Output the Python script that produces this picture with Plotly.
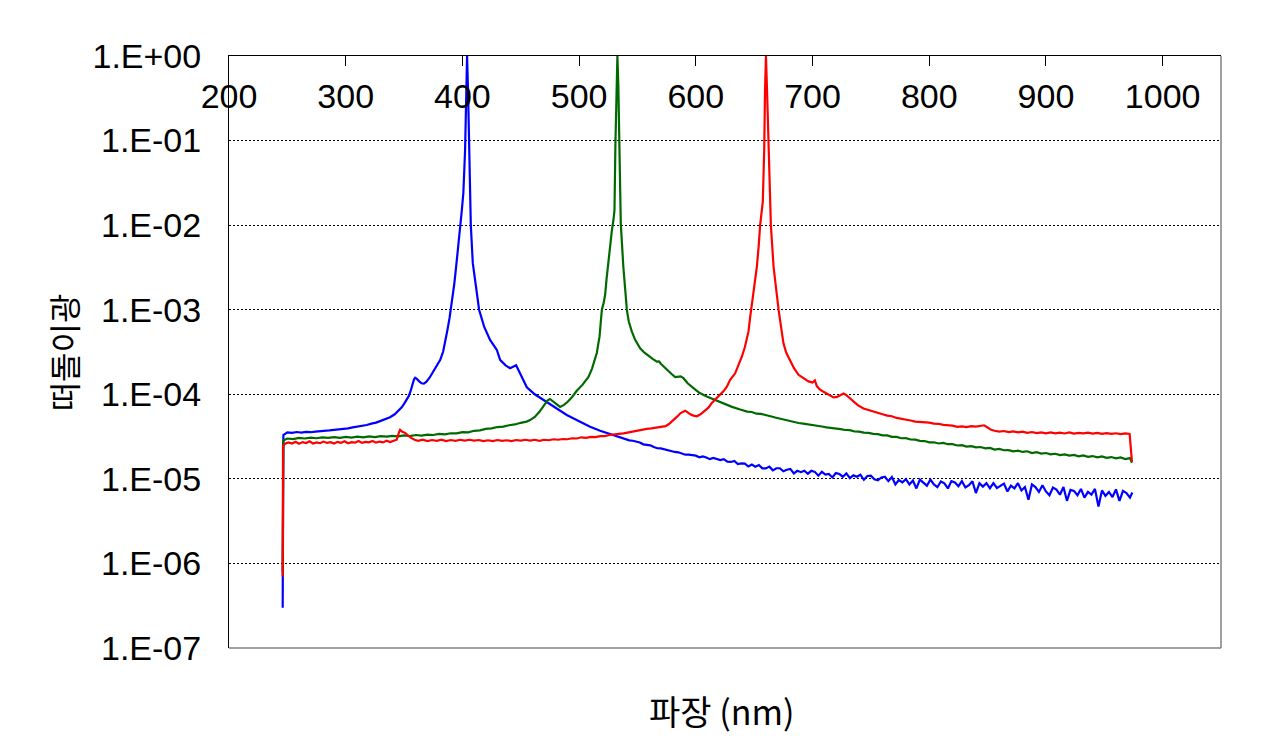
import plotly.graph_objects as go

# ---------------- data ----------------
blue_x = [246.0, 246.6, 250, 254, 258, 262, 266, 270, 274, 278, 282, 286, 290, 294, 298, 302, 306, 310, 314, 318,
          322, 326, 330, 334, 338, 342, 345, 348, 350, 352, 354, 355.5, 357, 358.5, 359.5, 361, 363, 365, 367, 369,
          372, 375, 378, 381, 383.5, 385.5, 387, 389, 391, 393, 394.6, 396.5, 398, 399.5, 400.8, 402.3, 403.3, 404.0,
          404.8, 405.9, 406.6, 407.2, 408.9, 411.5, 414.3, 418.6, 423.7, 429.5, 432.3, 437, 440.9, 446, 449.4, 455.2,
          462, 469.4, 475.1, 480.9, 489.4, 500, 509.4, 518, 526, 533,
          540, 543, 546, 549, 552, 555, 558, 561, 564, 567, 570, 573, 576, 579, 582, 585, 588, 591, 594, 597,
          600, 603, 606, 609, 612, 615, 618, 621, 624, 627, 630, 633, 636, 639, 642, 645, 648, 651, 654, 657,
          660, 663, 666, 669, 672, 675, 678, 681, 684, 687, 690, 693, 696, 699, 702, 705, 708, 711, 714, 717,
          720, 723, 726, 729, 732, 735, 738, 741, 744, 747, 750, 753, 756, 759, 762, 765, 768, 771, 774, 777,
          780, 783, 786, 789, 792, 795, 798, 801, 804, 807, 810, 813, 816, 819, 822, 825, 828, 831, 834, 837,
          840, 843, 846, 849, 852, 855, 858, 861, 864, 867, 870, 873, 876, 879, 882, 885, 888, 891, 894, 897,
          900, 903, 906, 909, 912, 915, 918, 921, 924, 927, 930, 933, 936, 939, 942, 945, 948, 951, 954, 957,
          960, 963, 966, 969, 972, 974]
blue_y = [3.0e-7, 3.3e-5, 3.55e-5, 3.5e-5, 3.58e-5, 3.53e-5, 3.6e-5, 3.56e-5, 3.62e-5, 3.64e-5, 3.7e-5, 3.74e-5,
          3.8e-5, 3.83e-5, 3.92e-5, 3.96e-5, 4.06e-5, 4.12e-5, 4.25e-5, 4.33e-5,
          4.5e-5, 4.62e-5, 4.85e-5, 5.05e-5, 5.35e-5, 5.8e-5, 6.3e-5, 7.0e-5, 7.7e-5, 8.5e-5, 9.5e-5, 1.08e-4,
          1.3e-4, 1.5e-4, 1.57e-4, 1.52e-4, 1.42e-4, 1.35e-4, 1.34e-4, 1.4e-4,
          1.58e-4, 1.85e-4, 2.15e-4, 2.55e-4, 3.2e-4, 4.3e-4, 5.6e-4, 8.0e-4, 1.19e-3, 2.0e-3, 3.2e-3, 5.5e-3,
          8.7e-3, 1.5e-2, 2.4e-2, 7.8e-2, 3.5e-1, 1.0,
          4.0e-1, 7.8e-2, 2.4e-2, 1.0e-2, 3.55e-3, 1.88e-3, 1.0e-3, 6.3e-4, 4.4e-4, 3.34e-4, 2.55e-4, 2.2e-4,
          2.03e-4, 2.2e-4, 1.77e-4, 1.21e-4,
          1.0e-4, 8.6e-5, 7.5e-5, 6.8e-5, 5.7e-5, 4.8e-5, 4.14e-5, 3.7e-5, 3.4e-5, 3.15e-5,
          2.95e-5, 2.85e-5, 2.82e-5, 2.76e-5, 2.69e-5, 2.56e-5, 2.50e-5, 2.49e-5, 2.38e-5, 2.30e-5,
          2.29e-5, 2.24e-5, 2.18e-5, 2.10e-5, 2.08e-5, 2.06e-5, 2.01e-5, 1.93e-5, 1.93e-5, 1.92e-5,
          1.88e-5, 1.80e-5, 1.845e-5, 1.785e-5, 1.71e-5, 1.77e-5, 1.73e-5, 1.67e-5, 1.71e-5, 1.60e-5,
          1.585e-5, 1.63e-5, 1.495e-5, 1.525e-5, 1.515e-5, 1.40e-5, 1.48e-5, 1.395e-5, 1.46e-5, 1.33e-5,
          1.33e-5, 1.395e-5, 1.26e-5, 1.335e-5, 1.335e-5, 1.23e-5, 1.28e-5, 1.31e-5, 1.16e-5, 1.245e-5,
          1.20e-5, 1.25e-5, 1.15e-5, 1.245e-5, 1.21e-5, 1.09e-5, 1.21e-5, 1.12e-5, 1.14e-5, 1.04e-5,
          1.17e-5, 1.14e-5, 1.06e-5, 1.16e-5, 1.02e-5, 1.10e-5, 1.06e-5, 1.12e-5, 9.75e-6, 1.08e-5,
          1.09e-5, 9.9e-6, 9.6e-6, 1.04e-5, 1.06e-5, 9.4e-6, 1.05e-5, 8.6e-6, 9.7e-6, 9.1e-6,
          9.9e-6, 8.6e-6, 9.55e-6, 7.7e-6, 9.8e-6, 9.1e-6, 8.3e-6, 9.8e-6, 8.6e-6, 8.0e-6,
          9.3e-6, 8.85e-6, 7.7e-6, 9.4e-6, 9.05e-6, 8.2e-6, 9.4e-6, 7.9e-6, 8.4e-6, 9.35e-6,
          6.8e-6, 8.9e-6, 8.1e-6, 8.9e-6, 7.75e-6, 8.9e-6, 7.8e-6, 8.25e-6, 8.8e-6, 7.1e-6,
          8.3e-6, 7.7e-6, 8.9e-6, 7.3e-6, 8.0e-6, 5.65e-6, 8.6e-6, 8.0e-6, 7.0e-6, 8.4e-6,
          7.1e-6, 6.4e-6, 7.9e-6, 7.45e-6, 6.5e-6, 8.0e-6, 5.5e-6, 7.4e-6, 7.2e-6, 6.4e-6,
          7.6e-6, 6.0e-6, 7.0e-6, 6.5e-6, 7.6e-6, 4.7e-6, 7.3e-6, 6.3e-6, 7.0e-6, 6.1e-6,
          7.5e-6, 5.5e-6, 7.2e-6, 6.8e-6, 6.0e-6, 6.9e-6]

green_x = [246.0, 246.6, 250, 255, 260, 265, 270, 275, 280, 285, 290, 295, 300, 305, 310, 315, 320, 325, 330, 335,
           340, 345, 350, 355, 360, 365, 370, 375, 380, 385, 390, 395, 400, 405, 410, 415, 420, 425, 430, 435,
           440, 445, 450, 455, 458, 462, 466, 469, 471, 473, 475, 477, 480, 483.7, 487, 490, 494, 498, 503, 508,
           511, 513, 515.2, 516.5, 517.5, 518.5, 519.5, 521, 522.3, 523.5, 525.1, 526.6, 528, 529.4, 530.3, 531.1,
           532.0, 532.8, 533.6, 534.5, 535.7, 537.9, 539.5, 540.9, 542.5, 545.2, 548, 552.3, 556, 559.4, 563,
           566.6, 568.5, 570, 575.2, 579, 582.3, 585, 587, 589.4, 593, 598, 603, 609.4, 616, 623.7, 631, 638,
           644, 648, 652, 656, 660, 664, 668, 672, 676, 680, 684, 688, 692, 696, 700, 704, 708, 712, 716,
           720, 724, 728, 732, 736, 740, 744, 748, 752, 756, 760, 764, 768, 772, 776, 780, 784, 788, 792, 796,
           800, 804, 808, 812, 816, 820, 824, 828, 832, 836, 840, 844, 848, 852, 856, 860, 864, 868, 872, 876,
           880, 884, 888, 892, 896, 900, 904, 908, 912, 916, 920, 924, 928, 932, 936, 940, 944, 948, 952, 956,
           960, 964, 968, 972, 973.7]
green_y = [8.0e-7, 2.85e-5, 3.0e-5, 2.95e-5, 3.05e-5, 3.0e-5, 3.08e-5, 3.02e-5, 3.1e-5, 3.05e-5, 3.12e-5, 3.06e-5,
           3.14e-5, 3.08e-5, 3.15e-5, 3.1e-5, 3.18e-5, 3.12e-5, 3.2e-5, 3.15e-5,
           3.22e-5, 3.18e-5, 3.26e-5, 3.2e-5, 3.3e-5, 3.25e-5, 3.34e-5, 3.3e-5, 3.4e-5, 3.36e-5, 3.46e-5, 3.45e-5,
           3.56e-5, 3.55e-5, 3.7e-5, 3.75e-5, 3.9e-5, 3.95e-5, 4.1e-5, 4.15e-5,
           4.3e-5, 4.4e-5, 4.6e-5, 4.75e-5, 4.95e-5, 5.4e-5, 6.2e-5, 7.2e-5, 7.9e-5, 8.5e-5, 8.8e-5, 8.4e-5, 7.7e-5,
           7.1e-5, 7.5e-5, 8.1e-5, 9.3e-5, 1.1e-4, 1.3e-4, 1.6e-4,
           2.0e-4, 2.5e-4, 3.1e-4, 4.0e-4, 4.8e-4, 7.0e-4, 1.0e-3, 1.2e-3, 1.5e-3, 2.3e-3, 3.9e-3, 6.5e-3, 8.5e-3,
           1.15e-2, 1.5e-2, 9.0e-2,
           4.5e-1, 1.0, 4.5e-1, 9.0e-2, 1.05e-2, 3.2e-3, 1.7e-3, 1.0e-3, 7.3e-4, 5.5e-4, 4.4e-4, 3.5e-4, 3.1e-4,
           2.84e-4, 2.62e-4,
           2.43e-4, 2.45e-4, 2.3e-4, 1.94e-4, 1.75e-4, 1.6e-4, 1.62e-4, 1.63e-4, 1.55e-4, 1.35e-4, 1.18e-4,
           1.04e-4, 9.4e-5, 8.6e-5, 7.8e-5, 7.1e-5, 6.6e-5,
           6.25e-5, 6.18e-5, 5.9e-5, 5.86e-5, 5.62e-5, 5.5e-5, 5.31e-5, 5.14e-5, 5.04e-5, 4.85e-5, 4.72e-5,
           4.58e-5, 4.5e-5, 4.39e-5, 4.32e-5, 4.24e-5, 4.16e-5, 4.07e-5, 4.03e-5,
           3.94e-5, 3.88e-5, 3.78e-5, 3.76e-5, 3.63e-5, 3.62e-5, 3.52e-5, 3.5e-5, 3.41e-5, 3.38e-5, 3.27e-5,
           3.26e-5, 3.14e-5, 3.14e-5, 3.02e-5, 3.03e-5, 2.92e-5, 2.91e-5, 2.81e-5, 2.8e-5,
           2.7e-5, 2.71e-5, 2.62e-5, 2.66e-5, 2.57e-5, 2.57e-5, 2.48e-5, 2.5e-5, 2.41e-5, 2.44e-5, 2.36e-5,
           2.38e-5, 2.3e-5, 2.32e-5, 2.22e-5, 2.26e-5, 2.18e-5, 2.19e-5, 2.12e-5, 2.15e-5,
           2.08e-5, 2.12e-5, 2.02e-5, 2.07e-5, 1.99e-5, 2.02e-5, 1.95e-5, 1.98e-5, 1.91e-5, 1.95e-5, 1.88e-5,
           1.92e-5, 1.85e-5, 1.89e-5, 1.82e-5, 1.86e-5, 1.8e-5, 1.84e-5, 1.77e-5, 1.81e-5,
           1.75e-5, 1.79e-5, 1.71e-5, 1.76e-5, 1.55e-5]

red_x = [246.0, 246.3, 248, 251, 254, 257, 260, 263, 266, 269, 272, 275, 278, 281, 284, 287, 290, 293, 296, 299,
         302, 305, 308, 311, 314, 317, 320, 323, 326, 329, 332, 335, 338, 341, 343.7, 345.5, 346.6, 348.5, 350.9,
         353, 356, 359, 362, 366, 370, 374, 378, 382, 386, 390, 394, 398, 402, 406, 410, 414, 418, 422, 426,
         430, 434, 438, 442, 446, 450, 454, 458, 462, 466, 470, 474, 478, 482, 486, 490, 494, 498, 502, 506,
         510, 514, 518, 522, 526, 530, 534, 538, 542, 546, 550, 554, 558, 562, 566, 570, 574, 577, 580, 583.7,
         587, 590.9, 593, 595.2, 598, 600.9, 604, 608, 611, 613.7, 617, 620.9, 624, 626.6, 629.4, 633.7, 636.5,
         639.5, 642, 643.5, 645.1, 646.5, 648.9, 650.5, 652.3, 653.8, 655.1, 657.4, 658.6, 659.3, 660.1, 661.0,
         662.3, 663.1, 664.3, 666.6, 668.5, 670.9, 673, 675.1, 677.5, 680.9, 684, 688, 692, 696.6, 700, 702,
         703.7, 706, 709.4, 713, 718, 721, 724, 726.6, 728.5, 731, 735.1, 739, 743.7,
         748, 752, 756, 760, 764, 768, 772, 776, 780, 784, 788, 792, 796, 800, 804, 808, 812, 816, 820, 824,
         828, 832, 836, 840, 844, 847, 850, 853, 856, 860, 864, 868, 872, 876, 880, 884, 888, 892, 896, 900,
         904, 908, 912, 916, 920, 924, 928, 932, 936, 940, 944, 948, 952, 956, 960, 964, 968, 971.7, 973.7]
red_y = [7.0e-7, 2.45e-5, 2.6e-5, 2.7e-5, 2.62e-5, 2.75e-5, 2.6e-5, 2.72e-5, 2.65e-5, 2.78e-5, 2.62e-5, 2.7e-5,
         2.64e-5, 2.76e-5, 2.66e-5, 2.72e-5, 2.62e-5, 2.74e-5, 2.66e-5, 2.78e-5,
         2.64e-5, 2.72e-5, 2.68e-5, 2.8e-5, 2.66e-5, 2.74e-5, 2.7e-5, 2.8e-5, 2.68e-5, 2.76e-5, 2.7e-5, 2.82e-5,
         2.72e-5, 2.8e-5, 2.9e-5, 3.5e-5, 3.8e-5, 3.6e-5, 3.5e-5,
         3.3e-5, 3.05e-5, 2.9e-5, 2.82e-5, 2.9e-5, 2.8e-5, 2.88e-5, 2.82e-5, 2.9e-5, 2.8e-5, 2.88e-5, 2.82e-5,
         2.9e-5, 2.84e-5, 2.9e-5, 2.83e-5, 2.88e-5, 2.8e-5, 2.86e-5, 2.8e-5,
         2.88e-5, 2.82e-5, 2.86e-5, 2.8e-5, 2.88e-5, 2.83e-5, 2.9e-5, 2.84e-5, 2.9e-5, 2.82e-5, 2.9e-5, 2.86e-5,
         2.94e-5, 2.9e-5, 2.96e-5, 2.94e-5, 3.02e-5, 3.0e-5, 3.1e-5, 3.06e-5,
         3.14e-5, 3.12e-5, 3.2e-5, 3.2e-5, 3.3e-5, 3.32e-5, 3.4e-5, 3.45e-5, 3.55e-5, 3.6e-5, 3.72e-5, 3.8e-5,
         3.9e-5, 3.95e-5, 4.05e-5, 4.1e-5, 4.2e-5, 4.45e-5, 4.8e-5, 5.4e-5,
         6.0e-5, 6.4e-5, 6.1e-5, 5.8e-5, 5.6e-5, 5.5e-5, 5.8e-5, 6.4e-5, 7.0e-5, 7.9e-5, 8.8e-5, 9.8e-5, 1.1e-4,
         1.23e-4, 1.48e-4, 1.77e-4, 2.2e-4,
         2.8e-4, 3.6e-4, 4.3e-4, 5.5e-4, 8.0e-4, 1.43e-3, 2.0e-3, 3.24e-3, 5.5e-3, 1.0e-2, 1.9e-2, 7.8e-2, 4.0e-1,
         1.0, 4.0e-1,
         1.0e-1, 3.0e-2, 1.0e-2, 3.24e-3, 1.8e-3, 1.0e-3, 6.3e-4, 4.0e-4, 3.1e-4, 2.5e-4, 2.05e-4, 1.7e-4,
         1.55e-4, 1.42e-4, 1.38e-4, 1.46e-4,
         1.25e-4, 1.15e-4, 1.07e-4, 1.0e-4, 9.2e-5, 9.3e-5, 9.7e-5, 1.02e-4, 9.9e-5, 9.2e-5, 8.1e-5, 7.4e-5, 6.8e-5,
         6.5e-5, 6.2e-5, 5.95e-5, 5.8e-5, 5.6e-5, 5.5e-5, 5.25e-5, 5.15e-5, 4.95e-5, 4.9e-5, 4.75e-5, 4.72e-5,
         4.6e-5, 4.62e-5, 4.5e-5, 4.48e-5, 4.35e-5, 4.3e-5, 4.26e-5, 4.12e-5,
         4.18e-5, 4.1e-5, 4.2e-5, 4.15e-5, 4.25e-5, 4.3e-5, 4.05e-5, 3.8e-5, 3.7e-5, 3.62e-5, 3.68e-5, 3.58e-5,
         3.64e-5, 3.55e-5, 3.62e-5, 3.5e-5, 3.58e-5, 3.48e-5, 3.55e-5, 3.46e-5,
         3.54e-5, 3.45e-5, 3.52e-5, 3.44e-5, 3.55e-5, 3.43e-5, 3.5e-5, 3.46e-5, 3.52e-5, 3.42e-5, 3.5e-5, 3.4e-5,
         3.48e-5, 3.4e-5, 3.46e-5, 3.38e-5, 3.44e-5, 3.4e-5, 1.6e-5]

x_ticks = [200, 300, 400, 500, 600, 700, 800, 900, 1000]
y_ticks = [1e-7, 1e-6, 1e-5, 1e-4, 1e-3, 1e-2, 1e-1, 1e0]
y_tick_text = ["1.E-07", "1.E-06", "1.E-05", "1.E-04", "1.E-03", "1.E-02", "1.E-01", "1.E+00"]
x_title = "파장 (nm)"
y_title = "떠돌이광"

# ---------------- figure ----------------
LAT = "Liberation Sans, Arial, sans-serif"
KOR = "Noto Sans CJK KR, sans-serif"

fig = go.Figure()
for xs, ys, col in [(blue_x, blue_y, "#0000ff"), (green_x, green_y, "#006a00"), (red_x, red_y, "#ff0000")]:
    fig.add_trace(go.Scatter(x=xs, y=ys, mode="lines", line=dict(color=col, width=2.2),
                             showlegend=False, hoverinfo="skip"))

fig.update_layout(
    width=1285, height=756,
    margin=dict(l=229, r=64, t=56, b=108),
    paper_bgcolor="white", plot_bgcolor="white",
    showlegend=False,
    xaxis=dict(range=[200, 1050], side="top", tickvals=x_ticks,
               ticks="inside", ticklen=10, tickcolor="black", tickwidth=1,
               ticklabelposition="inside", ticklabeloverflow="allow", ticklabelstandoff=22,
               tickfont=dict(family=LAT, size=34, color="black"),
               showline=True, linecolor="black", linewidth=1,
               showgrid=False, zeroline=False),
    yaxis=dict(type="log", range=[-7, 0], tickvals=y_ticks, ticktext=y_tick_text,
               ticks="", ticklabelstandoff=20,
               tickfont=dict(family=LAT, size=34, color="black"),
               showline=True, linecolor="black", linewidth=1,
               showgrid=True, gridcolor="black", gridwidth=1, griddash="2px,2px",
               zeroline=False),
    shapes=[
        dict(type="line", xref="paper", yref="paper", x0=0, x1=1, y0=0, y1=0,
             line=dict(color="#808080", width=1.5)),
        dict(type="line", xref="paper", yref="paper", x0=1, x1=1, y0=0, y1=1,
             line=dict(color="#808080", width=1.5)),
    ],
    annotations=[
        dict(text=y_title, xref="paper", yref="paper", x=-0.167, y=0.5,
             xanchor="center", yanchor="middle", textangle=-90, showarrow=False,
             font=dict(family=KOR, size=32, color="black")),
        dict(text=x_title, xref="paper", yref="paper", x=0.496, y=-0.105,
             xanchor="center", yanchor="middle", showarrow=False,
             font=dict(family=KOR, size=34, color="black")),
    ],
)

fig.write_html("out.html")
